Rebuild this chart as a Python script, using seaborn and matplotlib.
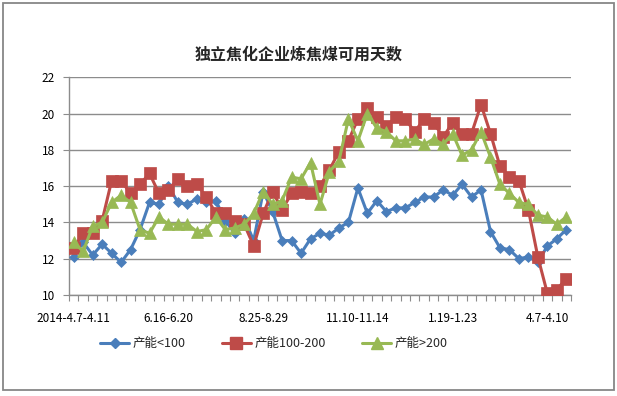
import numpy as np
import pandas as pd
import matplotlib
matplotlib.use("Agg")
import matplotlib.pyplot as plt
from matplotlib.patches import Rectangle
from matplotlib.lines import Line2D
from matplotlib.ticker import FixedLocator
import seaborn as sns

title = "独立焦化企业炼焦煤可用天数"
series_names = ["产能<100", "产能100-200", "产能>200"]

# weekly periods (53 weeks); only every 10th label is shown
tick_positions = [0, 10, 20, 30, 40, 50]
tick_labels = ["2014-4.7-4.11", "6.16-6.20", "8.25-8.29", "11.10-11.14", "1.19-1.23", "4.7-4.10"]

cap_lt100 = [12.1, 12.9, 12.2, 12.8, 12.3, 11.8, 12.5, 13.6, 15.1, 15.0,
             16.0, 15.1, 15.0, 15.3, 15.1, 15.2, 14.1, 13.4, 14.2, 13.0,
             15.7, 14.6, 13.0, 13.0, 12.3, 13.1, 13.4, 13.3, 13.7, 14.0,
             15.9, 14.5, 15.2, 14.6, 14.8, 14.8, 15.1, 15.4, 15.4, 15.8,
             15.5, 16.1, 15.4, 15.8, 13.5, 12.6, 12.5, 12.0, 12.1, 11.8,
             12.7, 13.1, 13.6]
cap_100_200 = [12.6, 13.4, 13.4, 14.1, 16.3, 16.3, 15.6, 16.1, 16.7, 15.6,
               15.8, 16.4, 16.0, 16.1, 15.4, 14.5, 14.5, 14.1, 13.9, 12.7,
               14.5, 15.7, 14.7, 15.6, 15.7, 15.6, 16.0, 16.9, 17.9, 18.5,
               19.7, 20.3, 19.8, 19.3, 19.8, 19.7, 19.0, 19.7, 19.5, 18.7,
               19.5, 18.9, 18.9, 20.5, 18.9, 17.1, 16.5, 16.3, 14.7, 12.1,
               10.1, 10.3, 10.9]
cap_gt200 = [12.9, 12.4, 13.8, 14.0, 15.1, 15.5, 15.1, 13.6, 13.4, 14.3,
             13.9, 13.9, 13.9, 13.5, 13.6, 14.3, 13.6, 13.7, 13.9, 14.5,
             15.7, 15.0, 15.2, 16.5, 16.4, 17.3, 15.0, 16.8, 17.4, 19.7,
             18.5, 20.0, 19.2, 19.0, 18.5, 18.5, 18.6, 18.3, 18.6, 18.3,
             18.9, 17.7, 18.0, 19.0, 17.6, 16.1, 15.6, 15.1, 15.0, 14.4,
             14.3, 13.9, 14.3]

week = np.arange(len(cap_lt100))

sns.set_theme(style="white")
plt.rcParams['font.family'] = ['Noto Sans CJK SC', 'DejaVu Sans']

W, H = 617, 396
fig = plt.figure(figsize=(W / 100, H / 100), dpi=100)
fig.patch.set_facecolor("white")

# chart border
fig.patches.append(Rectangle((3 / W, 6 / H), 611 / W, 387 / H, transform=fig.transFigure,
                             fill=False, edgecolor="#878787", linewidth=1.3))

ax = fig.add_axes([69 / W, 1 - 295 / H, (571 - 69) / W, (295 - 77.3) / H])

colors = ["#4A7EBB", "#BE4B48", "#98B954"]
markers = ["D", "s", "^"]
msizes = [5.5, 8.5, 8.5]
values = [cap_lt100, cap_100_200, cap_gt200]

for i, (name, vals) in enumerate(zip(series_names, values)):
    df = pd.DataFrame({"week": week, "days": vals})
    sns.lineplot(data=df, x="week", y="days", ax=ax, color=colors[i], marker=markers[i],
                 markersize=msizes[i], markeredgecolor=colors[i], markeredgewidth=0.5,
                 linewidth=2.2, zorder=3 + i, legend=False)

ax.set_xlim(-0.5, len(week) - 0.5)
ax.set_ylim(10, 22)
ax.set_yticks(np.arange(10, 23, 2))
ax.yaxis.grid(True, color="#8C8C8C", linewidth=1.0)
ax.xaxis.grid(False)
ax.set_axisbelow(True)
ax.set_xlabel("")
ax.set_ylabel("")

ax.set_xticks(tick_positions)
ax.set_xticklabels(tick_labels)
ax.xaxis.set_minor_locator(FixedLocator(np.arange(-0.5, len(week), 1.0)))
ax.tick_params(axis="x", which="major", length=0, pad=12, labelsize=8.5, colors="black")
ax.tick_params(axis="x", which="minor", length=4, width=0.8, color="#8C8C8C", bottom=True)
ax.tick_params(axis="y", which="major", length=4, width=0.8, color="#8C8C8C", left=True,
               pad=6, labelsize=8.5, labelcolor="black")

for s in ["top", "right"]:
    ax.spines[s].set_visible(False)
for s in ["left", "bottom"]:
    ax.spines[s].set_color("#8C8C8C")
    ax.spines[s].set_linewidth(1.0)

fig.text(299 / W, 1 - 55 / H, title, ha="center", va="center", fontsize=11.5, fontweight="bold")

handles = [Line2D([0], [0], color=colors[i], marker=markers[i], markersize=msizes[i],
                  markeredgecolor=colors[i], linewidth=2.2) for i in range(3)]
fig.legend(handles, series_names, loc="center", bbox_to_anchor=(274 / W, 1 - 344 / H),
           ncol=3, frameon=False, fontsize=9, handlelength=2.3, handletextpad=0.3,
           columnspacing=2.9)

fig.savefig("out.png", dpi=100, facecolor="white")
